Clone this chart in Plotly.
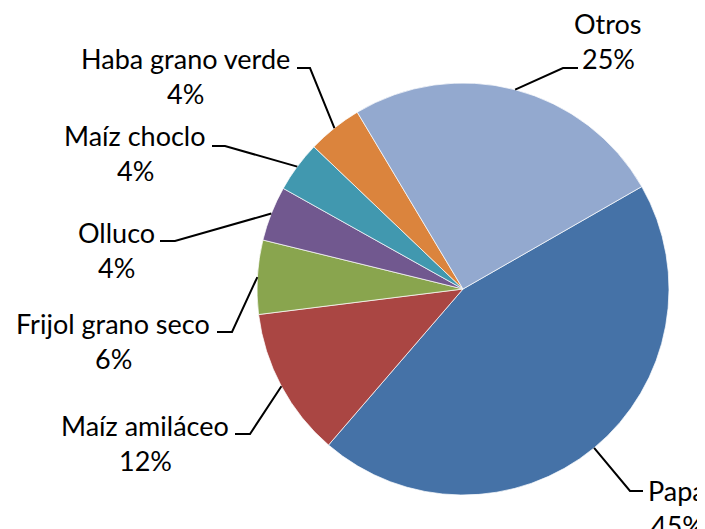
import math
import plotly.graph_objects as go

# ---- data ----
labels = ["Papa", "Maíz amiláceo", "Frijol grano seco", "Olluco", "Maíz choclo", "Haba grano verde", "Otros"]
values = [44.6, 11.7, 5.8, 4.3, 4.0, 4.3, 25.3]
colors = ["#4572A7", "#AA4643", "#89A54E", "#71588F", "#4198AF", "#DB843D", "#93A9CF"]

# ---- layout constants (window pixels) ----
OFF = 8  # default page body margin
W, H = 705 - OFF, 529 - OFF
CX, CY, R = 463, 289, 206
ROTATION = 60.2
FONT = "Lato"
FS = 27

# label anchor (text centre x, first-line baseline y) and leader elbow/end points
label_pos = {
    "Papa": (677, 500),
    "Maíz amiláceo": (145, 435),
    "Frijol grano seco": (113, 333),
    "Olluco": (117, 242),
    "Maíz choclo": (135, 145),
    "Haba grano verde": (185, 68),
    "Otros": (608, 33),
}
leader = {  # elbow point, end point
    "Papa": ((630, 491), (643, 491)),
    "Maíz amiláceo": ((250, 434), (235, 434)),
    "Frijol grano seco": ((232, 332), (217, 332)),
    "Olluco": ((175, 241), (160, 241)),
    "Maíz choclo": ((225, 146), (212, 146)),
    "Haba grano verde": ((310, 68), (297, 68)),
    "Otros": ((563, 68), (578, 68)),
}
LINE_GAP = 35


def px(x):
    return (x - OFF) / W


def py(y):
    return 1 - (y - OFF) / H


fig = go.Figure(go.Pie(
    labels=labels, values=values, sort=False, direction="clockwise",
    rotation=ROTATION, textinfo="none", hoverinfo="label+percent",
    marker=dict(colors=colors, line=dict(color="rgba(255,255,255,0.7)", width=1)),
    domain=dict(x=[px(CX - R), px(CX + R)], y=[py(CY + R), py(CY - R)]),
    showlegend=False,
))

total = sum(values)
cum = 0.0
annotations = []
shapes = []
for lab, v in zip(labels, values):
    mid = ROTATION + (cum + v / 2) / total * 360
    cum += v
    a = math.radians(mid)
    ex, ey = CX + R * math.sin(a), CY - R * math.cos(a)
    (bx, by), (tx, ty) = leader[lab]
    shapes.append(dict(
        type="path", xref="paper", yref="paper",
        path=f"M {px(ex)},{py(ey)} L {px(bx)},{py(by)} L {px(tx)},{py(ty)}",
        line=dict(color="black", width=2),
    ))
    lx, ly = label_pos[lab]
    pct = f"{round(v / total * 100):d}%"
    for i, t in enumerate([lab, pct]):
        base = ly + i * LINE_GAP
        annotations.append(dict(
            text=t, x=px(lx), y=py(base - 0.36 * FS), xref="paper", yref="paper",
            xanchor="center", yanchor="middle", showarrow=False,
            font=dict(family=FONT, size=FS, color="black"),
        ))

fig.update_layout(
    width=W, height=H, margin=dict(l=0, r=0, t=0, b=0),
    paper_bgcolor="white", plot_bgcolor="white",
    annotations=annotations, shapes=shapes,
)
fig.write_html("out.html")
